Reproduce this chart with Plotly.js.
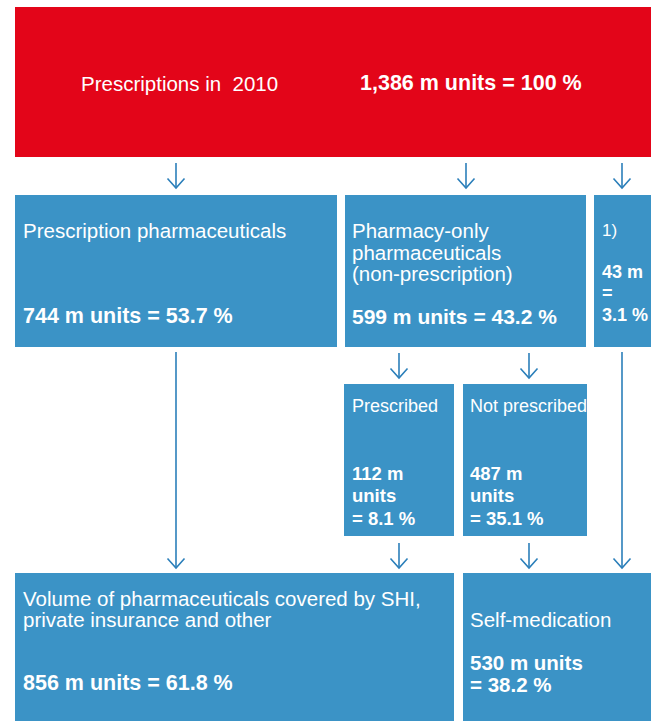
<!DOCTYPE html>
<html>
<head>
<meta charset="utf-8">
<script src="https://cdn.plot.ly/plotly-3.0.1.min.js"></script>
<style>html,body{margin:0;padding:0;background:#fff;}#chart{width:656px;height:721px;}</style>
</head>
<body>
<div id="chart"></div>
<script>
// ---- data ----
const nodeNames = [
  "Prescriptions in  2010",
  "Prescription pharmaceuticals",
  "Pharmacy-only|pharmaceuticals|(non-prescription)",
  "1)",
  "Prescribed",
  "Not prescribed",
  "Volume of pharmaceuticals covered by SHI,|private insurance and other",
  "Self-medication"
];
const nodeUnits = [1386, 744, 599, 43, 112, 487, 856, 530];   // million units
const nodeShares = [100, 53.7, 43.2, 3.1, 8.1, 35.1, 61.8, 38.2]; // percent
const flowFrom = [0, 0, 0, 2, 2, 1, 4, 5, 3];
const flowTo   = [1, 2, 3, 4, 5, 6, 6, 7, 7];

// ---- layout / styling (positions in page pixels) ----
const RED = "#e30519", BLUE = "#3b93c6", ARROW = "#2b7fba";
const boxGeom = [
  {x0: 15, x1: 651, y0: 7, y1: 157, fill: RED},
  {x0: 15, x1: 337, y0: 195, y1: 347, fill: BLUE},
  {x0: 345, x1: 586, y0: 195, y1: 347, fill: BLUE},
  {x0: 594, x1: 651, y0: 195, y1: 347, fill: BLUE},
  {x0: 344, x1: 454, y0: 384, y1: 536, fill: BLUE},
  {x0: 463, x1: 587, y0: 384, y1: 536, fill: BLUE},
  {x0: 15, x1: 454, y0: 573, y1: 721, fill: BLUE},
  {x0: 463, x1: 651, y0: 573, y1: 721, fill: BLUE}
];
// text placement: label lines and value lines (value split template)
const textGeom = [
  {lx: 79, ly: [83], ls: 20.5, vx: 358, vy: [83], vs: 21.5, split: "one"},
  {lx: 21, ly: [230], ls: 20.5, vx: 21, vy: [316], vs: 21.5, split: "one"},
  {lx: 350, ly: [230, 252, 273], ls: 20.5, vx: 350, vy: [316], vs: 21, split: "one"},
  {lx: 600, ly: [230], ls: 17, vx: 600, vy: [272, 293, 315], vs: 18, split: "three"},
  {lx: 350, ly: [406], ls: 18, vx: 350, vy: [473, 495, 518], vs: 18.5, split: "sub"},
  {lx: 468, ly: [406], ls: 18, vx: 468, vy: [473, 495, 518], vs: 18.5, split: "sub"},
  {lx: 21, ly: [598, 619], ls: 20.5, vx: 21, vy: [683], vs: 21.5, split: "one"},
  {lx: 468, ly: [619], ls: 20.5, vx: 468, vy: [662, 684], vs: 20.5, split: "two"}
];
// arrow geometry for each flow: x, y start, y end
const arrowGeom = [
  [176, 163, 188], [466, 163, 188], [622, 163, 188],
  [399, 353, 378], [529, 353, 378],
  [176, 352, 568], [399, 543, 568], [529, 543, 568], [622, 352, 568]
];

function fmtUnits(v) { return v.toLocaleString("en-US"); }
function valueLines(i) {
  const u = fmtUnits(nodeUnits[i]), s = nodeShares[i].toFixed(i === 0 ? 0 : 1);
  switch (textGeom[i].split) {
    case "three": return [u + " m", "=", s + " %"];
    case "sub": return [u + " m", "units", "= " + s + " %"];
    case "two": return [u + " m units", "= " + s + " %"];
    default: return [u + " m units = " + s + " %"];
  }
}

const FONT = "Liberation Sans, Arial, sans-serif";
const shapes = [], annotations = [];
boxGeom.forEach(b => shapes.push({type: "rect", xref: "x", yref: "y", x0: b.x0, x1: b.x1, y0: b.y0, y1: b.y1,
  fillcolor: b.fill, line: {width: 0}, layer: "below"}));

flowFrom.forEach((f, k) => {
  const [x, y0, y1] = arrowGeom[k];
  shapes.push({type: "line", xref: "x", yref: "y", x0: x, x1: x, y0: y0, y1: y1, line: {color: ARROW, width: 1.6}});
  shapes.push({type: "path", xref: "x", yref: "y", path: `M ${x - 8.5} ${y1 - 9.5} L ${x} ${y1} L ${x + 8.5} ${y1 - 9.5}`,
    line: {color: ARROW, width: 1.6}});
});

nodeNames.forEach((name, i) => {
  const t = textGeom[i];
  name.split("|").forEach((line, j) => annotations.push({x: t.lx, y: t.ly[j], xref: "x", yref: "y", text: line,
    showarrow: false, xanchor: "left", yanchor: "middle", font: {family: FONT, size: t.ls, color: "#ffffff"}}));
  valueLines(i).forEach((line, j) => annotations.push({x: t.vx, y: t.vy[j], xref: "x", yref: "y", text: "<b>" + line + "</b>",
    showarrow: false, xanchor: "left", yanchor: "middle", font: {family: FONT, size: t.vs, color: "#ffffff"}}));
});

Plotly.newPlot("chart", [{x: [], y: [], type: "scatter", mode: "markers", hoverinfo: "skip"}], {
  width: 656, height: 721, margin: {l: 0, r: 0, t: 0, b: 0},
  paper_bgcolor: "#ffffff", plot_bgcolor: "#ffffff", showlegend: false,
  xaxis: {range: [0, 656], visible: false, fixedrange: true},
  yaxis: {range: [721, 0], visible: false, fixedrange: true},
  shapes: shapes, annotations: annotations
}, {staticPlot: true, displayModeBar: false});
</script>
</body>
</html>
